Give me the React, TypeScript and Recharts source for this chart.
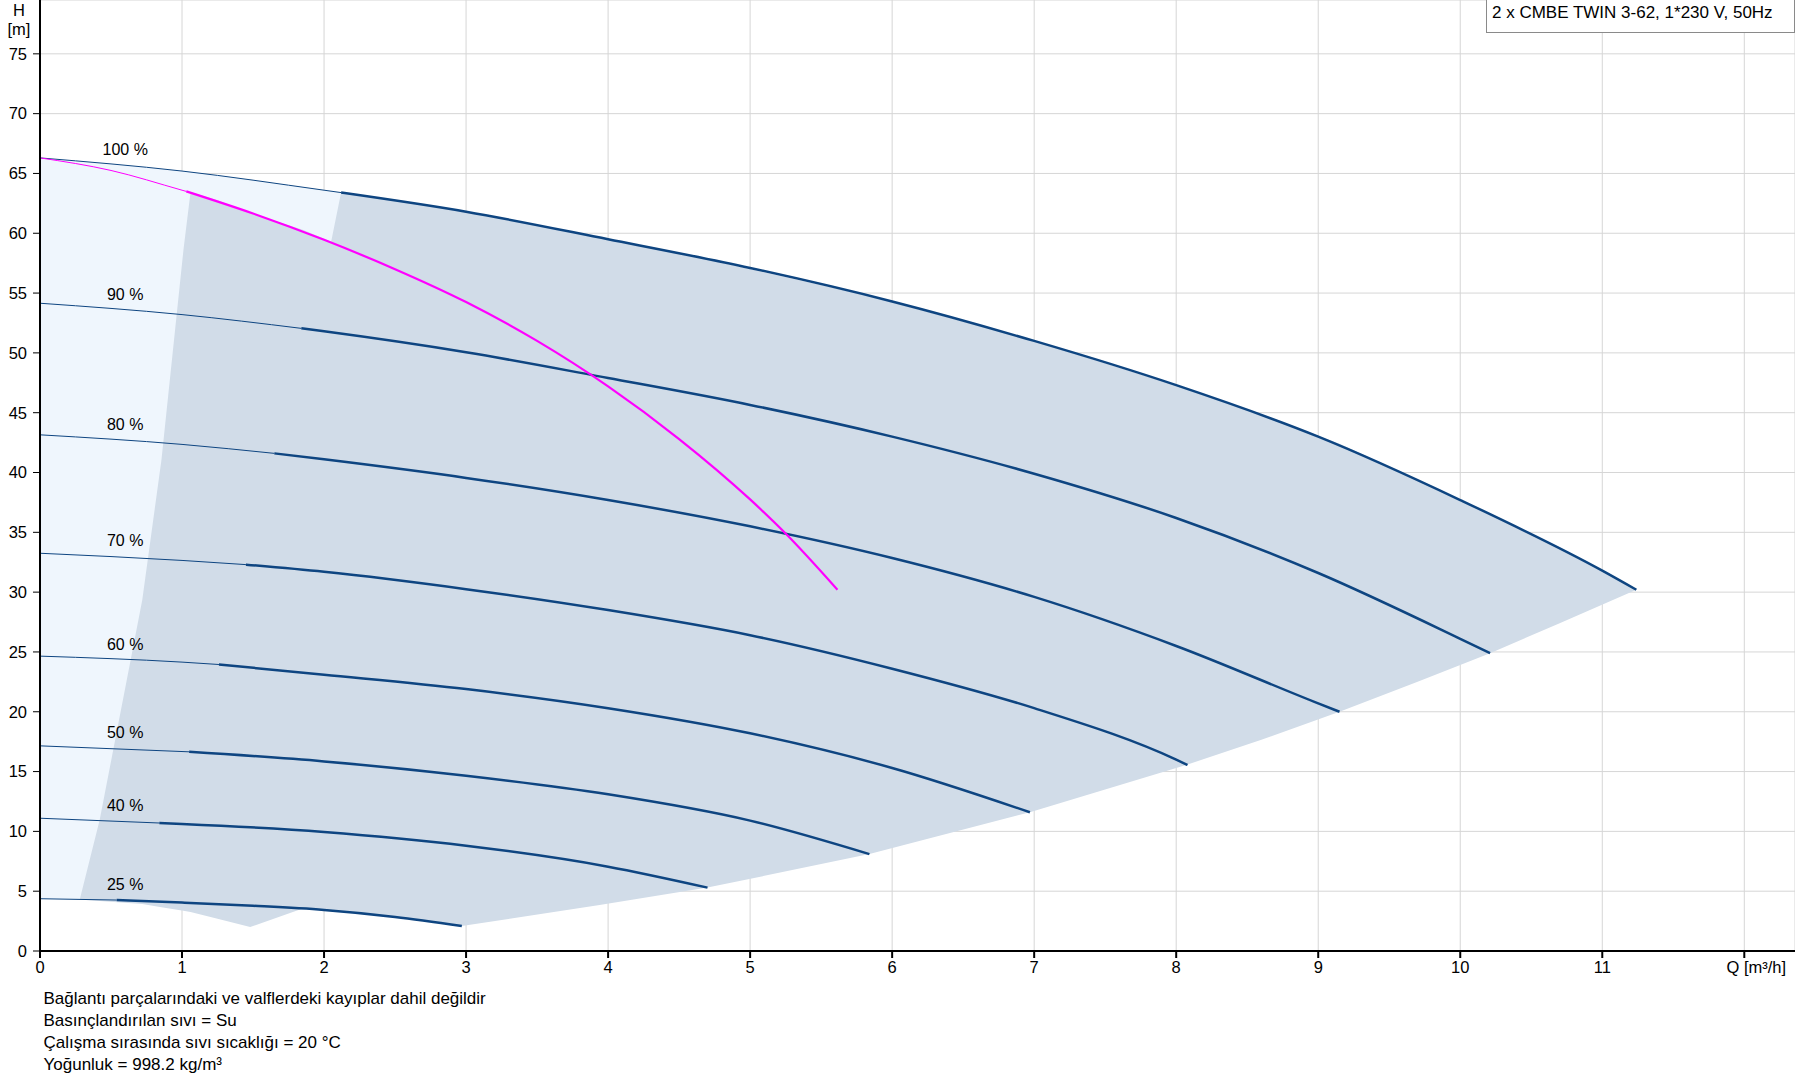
import React from "react"
import { ComposedChart, Area, Line, XAxis, YAxis, CartesianGrid, ReferenceDot } from "recharts"

// Q [m³/h] / H [m] readings
const qTicks = [0, 1, 2, 3, 4, 5, 6, 7, 8, 9, 10, 11, 12]
const hTicks = [0, 5, 10, 15, 20, 25, 30, 35, 40, 45, 50, 55, 60, 65, 70, 75]

const curve100 = [[0, 66.3], [1, 65.2], [2, 63.6], [2.12, 63.4], [3, 61.8], [4, 59.5], [5, 57.1], [6, 54.3], [7, 51.0], [8, 47.3], [9, 43.0], [10, 37.7], [11, 31.8], [11.24, 30.2]]
const curve90 = [[0, 54.15], [1, 53.2], [1.84, 52.05], [2, 51.8], [3, 50.05], [4, 47.9], [5, 45.65], [6, 43.0], [7, 39.9], [8, 36.2], [9, 31.6], [10, 26.1], [10.21, 24.9]]
const curve80 = [[0, 43.15], [1, 42.35], [1.65, 41.6], [2, 41.1], [3, 39.55], [4, 37.7], [5, 35.5], [6, 32.85], [7, 29.6], [8, 25.5], [9, 20.7], [9.15, 20.0]]
const curve70 = [[0, 33.25], [1, 32.65], [1.45, 32.3], [2, 31.7], [3, 30.25], [4, 28.5], [5, 26.4], [6, 23.6], [7, 20.3], [8, 16.0], [8.08, 15.55]]
const curve60 = [[0, 24.65], [1, 24.15], [1.26, 23.95], [2, 23.1], [3, 21.9], [4, 20.3], [5, 18.2], [6, 15.3], [6.97, 11.6]]
const curve50 = [[0, 17.15], [1.05, 16.65], [2, 15.85], [3, 14.65], [4, 13.1], [5, 10.9], [5.84, 8.1]]
const curve40 = [[0, 11.1], [0.84, 10.7], [1, 10.62], [2, 9.95], [3, 8.8], [4, 7.05], [4.7, 5.3]]
const curve25 = [[0, 4.37], [0.54, 4.26], [1, 4.05], [1.5, 3.78], [2, 3.43], [2.5, 2.85], [2.97, 2.09]]

// system curve (magenta)
const systemCurve = [[0, 66.3], [0.5, 65.25], [1, 63.6], [1.03, 63.5], [1.5, 61.65], [2, 59.45], [2.5, 57.0], [3, 54.25], [3.5, 51.0], [4, 47.2], [4.5, 42.8], [5, 37.75], [5.25, 34.9], [5.615, 30.2]]

// light band: [Q, low, high]
const lightBand = [[0, 4.37, 66.3], [0.5, 4.27, 65.8], [1, 4.05, 65.2], [1.5, 3.78, 64.45], [2, 3.43, 63.6], [2.12, 3.3, 63.4]]

// operating range: [Q, low, high]
const operatingRange = [
  [0.28, 4.3, 4.3], [0.42, 4.18, 10.95], [0.72, 3.93, 29.35], [0.855, 3.65, 41.05], [1.01, 3.36, 58.6],
  [1.06, 3.25, 63.45], [1.25, 2.7, 62.75], [1.48, 2.0, 61.7], [1.85, 3.55, 60.3], [2.05, 3.38, 59.3],
  [2.12, 3.3, 63.4], [2.5, 2.85, 62.8], [2.97, 2.09, 61.85], [3.94, 3.85, 59.65], [4.7, 5.3, 57.8],
  [5.84, 8.1, 54.75], [6.97, 11.6, 51.1], [8.07, 15.55, 47.0], [8.6, 17.65, 44.8], [9.15, 20.0, 42.4],
  [9.7, 22.5, 39.4], [10.21, 24.9, 36.5], [10.7, 27.4, 33.75], [11.24, 30.2, 30.2],
]

const speedCurves = [
  { key: "100", points: curve100, thickFrom: 2.12 },
  { key: "90", points: curve90, thickFrom: 1.84 },
  { key: "80", points: curve80, thickFrom: 1.65 },
  { key: "70", points: curve70, thickFrom: 1.45 },
  { key: "60", points: curve60, thickFrom: 1.26 },
  { key: "50", points: curve50, thickFrom: 1.05 },
  { key: "40", points: curve40, thickFrom: 0.84 },
  { key: "25", points: curve25, thickFrom: 0.54 },
]

const curveLabels = [
  { text: "100 %", q: 0.6, h: 67.0 },
  { text: "90 %", q: 0.6, h: 54.9 },
  { text: "80 %", q: 0.6, h: 44.05 },
  { text: "70 %", q: 0.6, h: 34.3 },
  { text: "60 %", q: 0.6, h: 25.6 },
  { text: "50 %", q: 0.6, h: 18.25 },
  { text: "40 %", q: 0.6, h: 12.2 },
  { text: "25 %", q: 0.6, h: 5.6 },
]

const notes = [
  "Bağlantı parçalarındaki ve valflerdeki kayıplar dahil değildir",
  "Basınçlandırılan sıvı = Su",
  "Çalışma sırasında sıvı sıcaklığı = 20 °C",
  "Yoğunluk = 998.2 kg/m³",
]

const title = "2 x CMBE TWIN 3-62, 1*230 V, 50Hz"

const FONT = "'Liberation Sans', Arial, sans-serif"
const NAVY = "#0e4581"

const toRows = (pts: number[][]) => pts.map(([q, h]) => ({ q, h }))
const toBand = (pts: number[][]) => pts.map(([q, lo, hi]) => ({ q, range: [lo, hi] }))

const XTick = (props: any) => {
  const { x, y, payload } = props
  const last = payload.value === 12
  return (
    <text x={x + (last ? 12 : 0)} y={y} dy="0.71em" textAnchor="middle" fill="#000" fontSize={16.5} fontFamily={FONT}>
      {last ? "Q [m³/h]" : String(payload.value)}
    </text>
  )
}

export default function App() {
  return (
    <div style={{ position: "absolute", left: 0, top: 0, width: 1795, height: 1081, background: "#fff", fontFamily: FONT, color: "#000" }}>
      <ComposedChart width={1795} height={1081} margin={{ top: 0, right: 0, left: 0, bottom: 100 }}>
        <XAxis
          type="number"
          dataKey="q"
          domain={[0, 12.357]}
          ticks={qTicks}
          allowDataOverflow
          height={30}
          tickSize={7}
          tickMargin={3}
          axisLine={{ stroke: "#000", strokeWidth: 2 }}
          tickLine={{ stroke: "#000", strokeWidth: 2 }}
          tick={<XTick />}
        />
        <YAxis
          type="number"
          domain={[0, 79.5]}
          ticks={hTicks}
          allowDataOverflow
          width={40}
          tickSize={7}
          tickMargin={6}
          axisLine={{ stroke: "#000", strokeWidth: 2 }}
          tickLine={{ stroke: "#000", strokeWidth: 1 }}
          tick={{ fill: "#000", fontSize: 16.5, fontFamily: FONT }}
        />
        <Area data={toBand(lightBand)} dataKey="range" type="linear" stroke="none" fill="#eff6fd" fillOpacity={1} isAnimationActive={false} dot={false} activeDot={false} />
        <Area data={toBand(operatingRange)} dataKey="range" type="linear" stroke="none" fill="#d1dce8" fillOpacity={1} isAnimationActive={false} dot={false} activeDot={false} />
        <CartesianGrid stroke="#d6d6d6" strokeWidth={1} fill="none" />
        {speedCurves.map((c) => (
          <Line
            key={`thin-${c.key}`}
            data={toRows(c.points.filter((p) => p[0] <= c.thickFrom))}
            dataKey="h"
            type="monotone"
            stroke={NAVY}
            strokeWidth={1}
            dot={false}
            activeDot={false}
            isAnimationActive={false}
          />
        ))}
        {speedCurves.map((c) => (
          <Line
            key={`thick-${c.key}`}
            data={toRows(c.points.filter((p) => p[0] >= c.thickFrom))}
            dataKey="h"
            type="monotone"
            stroke={NAVY}
            strokeWidth={2.5}
            dot={false}
            activeDot={false}
            isAnimationActive={false}
          />
        ))}
        <Line data={toRows(systemCurve.filter((p) => p[0] <= 1.03))} dataKey="h" type="monotone" stroke="#ff00ff" strokeWidth={1} dot={false} activeDot={false} isAnimationActive={false} />
        <Line data={toRows(systemCurve.filter((p) => p[0] >= 1.03))} dataKey="h" type="monotone" stroke="#ff00ff" strokeWidth={2.2} dot={false} activeDot={false} isAnimationActive={false} />
        {curveLabels.map((l) => (
          <ReferenceDot
            key={l.text}
            x={l.q}
            y={l.h}
            r={1}
            fill="none"
            stroke="none"
            label={{ value: l.text, position: "center", fill: "#000", fontSize: 16, fontFamily: FONT }}
          />
        ))}
      </ComposedChart>

      <div style={{ position: "absolute", left: 11, top: 1.5, width: 16, textAlign: "center", fontSize: 16.5, lineHeight: "16px" }}>H</div>
      <div style={{ position: "absolute", left: 5, top: 20.5, width: 28, textAlign: "center", fontSize: 16.5, lineHeight: "16px" }}>[m]</div>

      <div
        style={{
          position: "absolute",
          left: 1486,
          top: -1,
          width: 309,
          height: 34,
          boxSizing: "border-box",
          border: "1px solid #8a8a8a",
          background: "#fff",
        }}
      />
      <div style={{ position: "absolute", left: 1492, top: 4.3, fontSize: 17, lineHeight: "17px", whiteSpace: "nowrap" }}>{title}</div>

      <div style={{ position: "absolute", left: 43.5, top: 988, fontSize: 17, lineHeight: "22px", whiteSpace: "nowrap" }}>
        {notes.map((n) => (
          <div key={n}>{n}</div>
        ))}
      </div>
    </div>
  )
}
